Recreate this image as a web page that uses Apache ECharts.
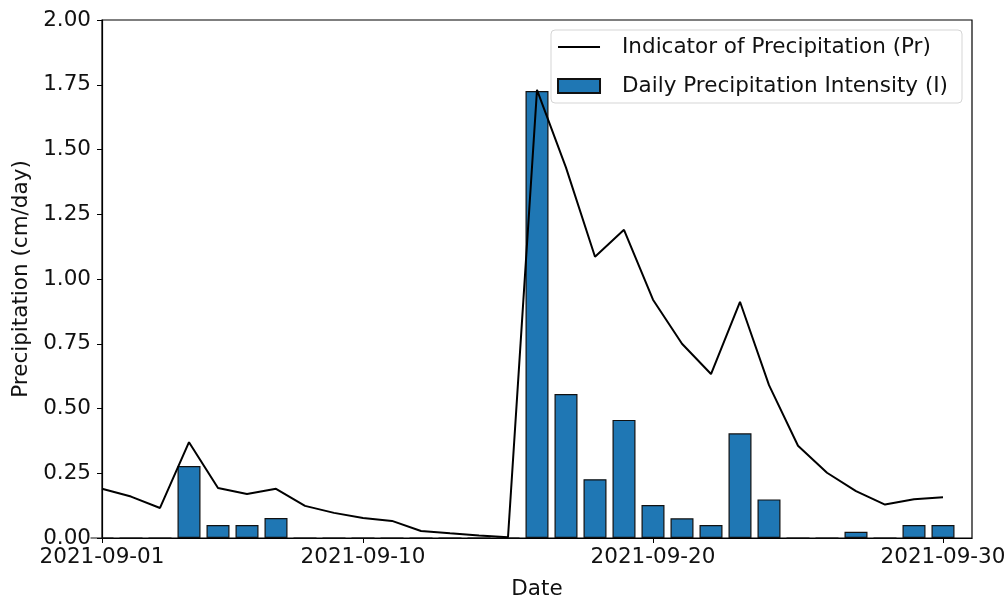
<!DOCTYPE html>
<html>
<head>
<meta charset="utf-8">
<script src="https://cdn.jsdelivr.net/npm/echarts@6/dist/echarts.min.js"></script>
<style>
html,body{margin:0;padding:0;background:#fff;}
#chart{width:1008px;height:598px;}
</style>
</head>
<body>
<div id="chart"></div>
<script>
const dates = ['2021-09-01','2021-09-02','2021-09-03','2021-09-04','2021-09-05','2021-09-06','2021-09-07','2021-09-08','2021-09-09','2021-09-10',
  '2021-09-11','2021-09-12','2021-09-13','2021-09-14','2021-09-15','2021-09-16','2021-09-17','2021-09-18','2021-09-19','2021-09-20',
  '2021-09-21','2021-09-22','2021-09-23','2021-09-24','2021-09-25','2021-09-26','2021-09-27','2021-09-28','2021-09-29','2021-09-30'];
const indicatorPr = [0.19,0.16,0.116,0.37,0.193,0.17,0.19,0.124,0.097,0.077,
  0.066,0.027,0.018,0.01,0.003,1.73,1.43,1.086,1.19,0.92,
  0.75,0.633,0.912,0.59,0.356,0.252,0.181,0.129,0.15,0.157];
const dailyIntensity = [0,0,0,0.278,0.05,0.05,0.077,0,0,0,
  0,0,0,0,0,1.726,0.556,0.227,0.456,0.127,
  0.076,0.05,0.404,0.149,0,0,0.024,0,0.05,0.05];
const xTickDates = ['2021-09-01','2021-09-10','2021-09-20','2021-09-30'];

const start = new Date(dates[0] + 'T00:00:00Z').getTime();
const dayIdx = d => Math.round((new Date(d + 'T00:00:00Z').getTime() - start) / 86400000);
const xTickVals = xTickDates.map(dayIdx);
const font = 'DejaVu Sans';
const fs = 21.5;
const txt = '#111';
// legend handle for the line: thin bar, with tiny corner marks fixing the icon box
const lineIcon = 'path://M0,0L0.01,0L0,0.01Z M0,14L0.01,14L0,13.99Z M0,6.1L42,6.1L42,7.9L0,7.9Z';

const chart = echarts.init(document.getElementById('chart'));
chart.setOption({
  animation: false,
  backgroundColor: '#fff',
  grid: {left: 102, right: 36, top: 20, bottom: 60, outerBoundsMode: 'none', containLabel: false,
    show: true, borderColor: '#000', borderWidth: 1.2, backgroundColor: 'transparent'},
  legend: {
    right: 46, top: 30, orient: 'vertical',
    data: [
      {name: 'Indicator of Precipitation (Pr)', icon: lineIcon, itemStyle: {color: '#000', borderWidth: 0}},
      {name: 'Daily Precipitation Intensity (I)', icon: 'rect'}
    ],
    itemWidth: 42, itemHeight: 14, itemGap: 17,
    padding: [6, 14, 6, 6],
    borderColor: '#d5d5d5', borderWidth: 1, borderRadius: 4,
    backgroundColor: 'rgba(255,255,255,0.8)',
    textStyle: {fontFamily: font, fontSize: fs, color: txt, padding: [0,0,0,17]}
  },
  xAxis: {
    type: 'value', min: 0, max: 30,
    name: 'Date', nameLocation: 'middle', nameGap: 40,
    nameTextStyle: {fontFamily: font, fontSize: fs, color: txt},
    axisLine: {show: true, onZero: false, lineStyle: {color: '#000', width: 1.2}},
    axisTick: {show: true, length: 5, customValues: xTickVals, lineStyle: {color: '#000'}},
    axisLabel: {fontFamily: font, fontSize: fs, color: txt, margin: 8, customValues: xTickVals,
      formatter: v => xTickDates[xTickVals.indexOf(Math.round(v))] || ''},
    splitLine: {show: false}
  },
  yAxis: {
    type: 'value', min: 0, max: 2, interval: 0.25,
    name: 'Precipitation (cm/day)', nameLocation: 'middle', nameGap: 70,
    nameTextStyle: {fontFamily: font, fontSize: fs, color: txt},
    axisLine: {show: true, lineStyle: {color: '#000', width: 1.2}},
    axisTick: {show: true, length: 5, lineStyle: {color: '#000'}},
    axisLabel: {fontFamily: font, fontSize: fs, color: txt, margin: 11, formatter: v => v.toFixed(2)},
    splitLine: {show: false}
  },
  series: [
    {
      name: 'Daily Precipitation Intensity (I)', type: 'bar', barWidth: 23,
      data: dates.map((d, i) => [dayIdx(d), dailyIntensity[i]]),
      itemStyle: {color: '#1f77b4', borderColor: '#111', borderWidth: 1.2},
      z: 2
    },
    {
      name: 'Indicator of Precipitation (Pr)', type: 'line', symbol: 'none',
      data: dates.map((d, i) => [dayIdx(d), indicatorPr[i]]),
      lineStyle: {color: '#000', width: 2},
      itemStyle: {color: '#000'},
      z: 3
    }
  ]
});
</script>
</body>
</html>
